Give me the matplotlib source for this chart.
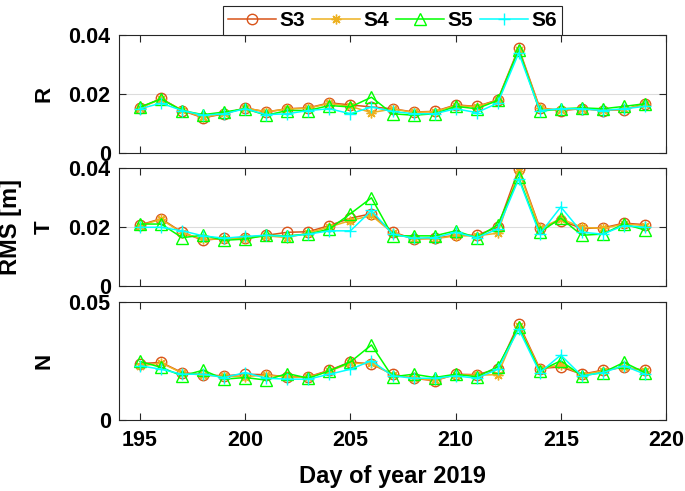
import matplotlib
matplotlib.use("Agg")
import matplotlib.pyplot as plt

plt.rcParams["font.family"] = ["Liberation Sans", "DejaVu Sans"]
plt.rcParams["font.weight"] = "bold"

days = list(range(195, 220))
series_names = ["S3", "S4", "S5", "S6"]

# R component
r_s3 = [0.0153, 0.0185, 0.0144, 0.0119, 0.0133, 0.0153, 0.0139, 0.0150, 0.0153, 0.0170,
        0.0163, 0.0156, 0.0150, 0.0139, 0.0141, 0.0163, 0.0158, 0.0180, 0.0356, 0.0153,
        0.0144, 0.0150, 0.0144, 0.0147, 0.0167]
r_s4 = [0.0153, 0.0183, 0.0145, 0.0121, 0.0134, 0.0152, 0.0140, 0.0149, 0.0152, 0.0168,
        0.0158, 0.0137, 0.0149, 0.0138, 0.0140, 0.0161, 0.0157, 0.0178, 0.0350, 0.0151,
        0.0146, 0.0150, 0.0145, 0.0148, 0.0165]
r_s5 = [0.0156, 0.0183, 0.0144, 0.0130, 0.0139, 0.0150, 0.0128, 0.0144, 0.0144, 0.0161,
        0.0156, 0.0189, 0.0133, 0.0128, 0.0133, 0.0158, 0.0150, 0.0178, 0.0350, 0.0141,
        0.0150, 0.0153, 0.0150, 0.0158, 0.0167]
r_s6 = [0.0150, 0.0169, 0.0144, 0.0128, 0.0133, 0.0150, 0.0130, 0.0133, 0.0144, 0.0150,
        0.0133, 0.0156, 0.0141, 0.0133, 0.0133, 0.0150, 0.0137, 0.0169, 0.0339, 0.0144,
        0.0150, 0.0150, 0.0144, 0.0150, 0.0158]

# T component
t_s3 = [0.0207, 0.0228, 0.0182, 0.0155, 0.0162, 0.0164, 0.0172, 0.0182, 0.0184, 0.0205,
        0.0230, 0.0245, 0.0184, 0.0159, 0.0162, 0.0172, 0.0172, 0.0199, 0.0397, 0.0197,
        0.0222, 0.0195, 0.0197, 0.0213, 0.0208]
t_s4 = [0.0205, 0.0226, 0.0180, 0.0158, 0.0160, 0.0162, 0.0170, 0.0164, 0.0180, 0.0200,
        0.0222, 0.0239, 0.0180, 0.0160, 0.0160, 0.0170, 0.0170, 0.0179, 0.0390, 0.0195,
        0.0228, 0.0199, 0.0195, 0.0210, 0.0205]
t_s5 = [0.0210, 0.0210, 0.0164, 0.0172, 0.0155, 0.0159, 0.0172, 0.0170, 0.0176, 0.0193,
        0.0245, 0.0299, 0.0170, 0.0170, 0.0170, 0.0187, 0.0164, 0.0207, 0.0368, 0.0182,
        0.0230, 0.0172, 0.0176, 0.0210, 0.0190]
t_s6 = [0.0199, 0.0199, 0.0187, 0.0170, 0.0162, 0.0168, 0.0172, 0.0168, 0.0176, 0.0187,
        0.0187, 0.0256, 0.0176, 0.0162, 0.0164, 0.0182, 0.0164, 0.0193, 0.0363, 0.0176,
        0.0268, 0.0182, 0.0176, 0.0205, 0.0199]

# N component
n_s3 = [0.0239, 0.0244, 0.0201, 0.0192, 0.0187, 0.0194, 0.0192, 0.0183, 0.0183, 0.0211,
        0.0246, 0.0237, 0.0194, 0.0177, 0.0166, 0.0194, 0.0192, 0.0215, 0.0408, 0.0218,
        0.0225, 0.0194, 0.0211, 0.0223, 0.0211]
n_s4 = [0.0228, 0.0242, 0.0199, 0.0190, 0.0185, 0.0184, 0.0190, 0.0182, 0.0182, 0.0208,
        0.0240, 0.0240, 0.0192, 0.0178, 0.0168, 0.0192, 0.0190, 0.0192, 0.0399, 0.0215,
        0.0235, 0.0192, 0.0208, 0.0225, 0.0208]
n_s5 = [0.0248, 0.0223, 0.0187, 0.0211, 0.0173, 0.0180, 0.0169, 0.0197, 0.0177, 0.0208,
        0.0246, 0.0318, 0.0183, 0.0194, 0.0180, 0.0194, 0.0183, 0.0225, 0.0392, 0.0208,
        0.0251, 0.0187, 0.0201, 0.0244, 0.0201]
n_s6 = [0.0230, 0.0215, 0.0194, 0.0194, 0.0180, 0.0201, 0.0177, 0.0173, 0.0173, 0.0194,
        0.0215, 0.0251, 0.0187, 0.0177, 0.0177, 0.0187, 0.0177, 0.0215, 0.0385, 0.0201,
        0.0275, 0.0187, 0.0201, 0.0230, 0.0194]

panel_labels = ["R", "T", "N"]
panel_data = [
    [r_s3, r_s4, r_s5, r_s6],
    [t_s3, t_s4, t_s5, t_s6],
    [n_s3, n_s4, n_s5, n_s6],
]
y_ticks = [[0, 0.02, 0.04], [0, 0.02, 0.04], [0, 0.05]]
y_ticklabels = [["0", "0.02", "0.04"], ["0", "0.02", "0.04"], ["0", "0.05"]]
x_ticks = [195, 200, 205, 210, 215, 220]

colors = ["#D95319", "#EDB120", "#00FF00", "#00FFFF"]
markers = ["o", (8, 2, 0), "^", "+"]
msizes = [7.5, 7, 8, 9]

W, H = 685, 491
fig = plt.figure(figsize=(W / 100, H / 100), dpi=100)

# panel boxes in pixels (top, bottom)
boxes = [(35, 153), (168, 286), (302, 420)]
left, right = 119, 666
axes = []
for (top, bot) in boxes:
    ax = fig.add_axes([left / W, 1 - bot / H, (right - left) / W, (bot - top) / H])
    axes.append(ax)

for i, ax in enumerate(axes):
    handles = []
    for j, vals in enumerate(panel_data[i]):
        h, = ax.plot(days, vals, color=colors[j], marker=markers[j], ms=msizes[j],
                     mfc="none", mew=1.0, lw=1.1, label=series_names[j])
        handles.append(h)
    ax.set_xlim(194, 220)
    ax.set_ylim(y_ticks[i][0], y_ticks[i][-1])
    ax.set_yticks(y_ticks[i])
    ax.set_yticklabels(y_ticklabels[i])
    ax.set_xticks(x_ticks)
    if i < 2:
        ax.set_xticklabels([])
    ax.yaxis.grid(True, color="#dcdcdc", lw=0.8)
    ax.set_axisbelow(True)
    ax.tick_params(direction="in", top=True, right=True, length=5, width=0.8,
                   color="#262626", labelsize=15.5)
    ax.tick_params(axis="x", pad=7)
    ax.tick_params(axis="y", pad=6)
    for sp in ax.spines.values():
        sp.set_color("#262626")
        sp.set_linewidth(0.8)
    for lab in ax.get_xticklabels() + ax.get_yticklabels():
        lab.set_fontweight("bold")
    cy = (boxes[i][0] + boxes[i][1]) / 2
    fig.text(44 / W, 1 - cy / H, panel_labels[i], rotation=90, fontsize=16,
             fontweight="bold", ha="center", va="center")

axes[2].set_xlabel("Day of year 2019", fontsize=17, fontweight="bold", labelpad=10)

fig.text(11 / W, 1 - 227 / H, "RMS [m]", rotation=90, fontsize=17, fontweight="bold",
         ha="center", va="center")

leg = fig.legend(handles=handles, loc="lower center", ncol=4,
                 bbox_to_anchor=((left + right) / 2 / W, 1 - 35 / H),
                 fontsize=15, frameon=True, fancybox=False, framealpha=1,
                 edgecolor="#262626", handlelength=2.3, columnspacing=0.32,
                 handletextpad=0.18, borderpad=0.25, borderaxespad=0)
leg.get_frame().set_linewidth(0.8)
for t in leg.get_texts():
    t.set_fontweight("bold")

fig.savefig("out.png", dpi=100)
